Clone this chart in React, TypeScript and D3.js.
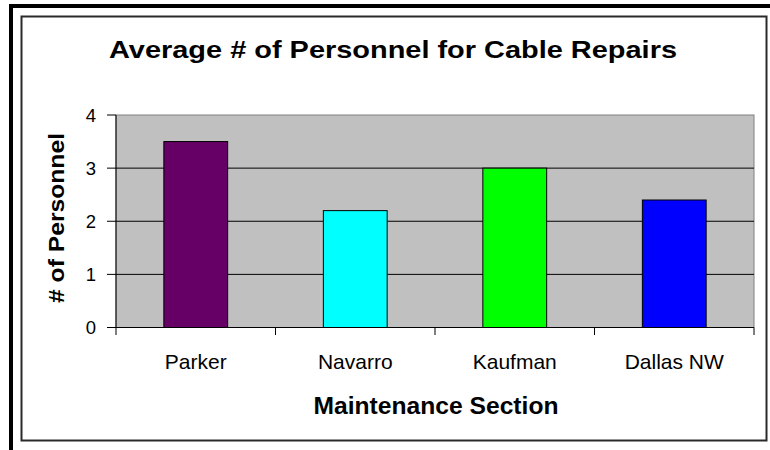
import React from "react";
import * as d3 from "d3";

const categories = ["Parker", "Navarro", "Kaufman", "Dallas NW"];
const values = [3.5, 2.2, 3.0, 2.4];
const barColors = ["#660066", "#00FFFF", "#00FF00", "#0000FF"];
const yTicks = [0, 1, 2, 3, 4];
const title = "Average # of Personnel for Cable Repairs";
const xTitle = "Maintenance Section";
const yTitle = "# of Personnel";

const W = 770;
const H = 450;
const plot = { left: 116, right: 754, top: 115, bottom: 327.5 };
const font = "'Liberation Sans', Arial, Helvetica, sans-serif";

export default function App() {
  const x = d3
    .scaleBand<string>()
    .domain(categories)
    .range([plot.left, plot.right])
    .paddingInner(0.6)
    .paddingOuter(0.3);
  const y = d3.scaleLinear().domain([0, 4]).range([plot.bottom, plot.top]);
  const step = x.step();
  const boundaries = d3.range(categories.length + 1).map((i) => plot.left + i * step);

  return (
    <svg
      width={W}
      height={H}
      style={{ position: "absolute", left: 0, top: 0, background: "#fff" }}
      fontFamily={font}
    >
      <rect x={0} y={0} width={W} height={H} fill="#fff" />
      {/* outer thick frame (clipped) */}
      <rect x={9} y={4} width={W - 9} height={4} fill="#000" />
      <rect x={9} y={4} width={4} height={H - 4} fill="#000" />
      {/* inner chart border */}
      <rect x={21.5} y={16.5} width={745} height={424} fill="none" stroke="#2a2a2a" strokeWidth={2} />

      {/* title */}
      <text
        x={393}
        y={58}
        textAnchor="middle"
        fontSize={24}
        fontWeight="bold"
        textLength={568}
        lengthAdjust="spacingAndGlyphs"
      >
        {title}
      </text>

      {/* plot area */}
      <rect
        x={plot.left}
        y={plot.top}
        width={plot.right - plot.left}
        height={plot.bottom - plot.top}
        fill="#c0c0c0"
        stroke="#808080"
        strokeWidth={1}
      />
      {/* gridlines */}
      {yTicks
        .filter((t) => t > 0 && t < 4)
        .map((t) => (
          <line key={"g" + t} x1={plot.left} x2={plot.right} y1={y(t)} y2={y(t)} stroke="#000" strokeWidth={1} />
        ))}

      {/* bars */}
      {categories.map((c, i) => (
        <rect
          key={c}
          x={x(c)}
          y={y(values[i])}
          width={x.bandwidth()}
          height={plot.bottom - y(values[i])}
          fill={barColors[i]}
          stroke="#000"
          strokeWidth={1}
        />
      ))}

      {/* axes */}
      <line x1={plot.left} x2={plot.left} y1={plot.top} y2={plot.bottom} stroke="#000" strokeWidth={1} />
      <line x1={plot.left - 9} x2={plot.right} y1={plot.bottom} y2={plot.bottom} stroke="#000" strokeWidth={1} />
      {yTicks.map((t) => (
        <g key={"yt" + t}>
          <line x1={plot.left - 9} x2={plot.left} y1={y(t)} y2={y(t)} stroke="#000" strokeWidth={1} />
          <text x={96} y={y(t)} dy="0.36em" textAnchor="end" fontSize={18.5}>
            {t}
          </text>
        </g>
      ))}
      {boundaries.map((bx, i) => (
        <line key={"xt" + i} x1={bx} x2={bx} y1={plot.bottom} y2={plot.bottom + 7.5} stroke="#000" strokeWidth={1} />
      ))}
      {categories.map((c) => (
        <text key={"xl" + c} x={(x(c) as number) + x.bandwidth() / 2} y={369} textAnchor="middle" fontSize={21}>
          {c}
        </text>
      ))}

      {/* axis titles */}
      <text
        x={436}
        y={413.5}
        textAnchor="middle"
        fontSize={24}
        fontWeight="bold"
        textLength={245}
        lengthAdjust="spacingAndGlyphs"
      >
        {xTitle}
      </text>
      <text
        transform="translate(64,218) rotate(-90)"
        textAnchor="middle"
        fontSize={22}
        fontWeight="bold"
        textLength={170}
        lengthAdjust="spacingAndGlyphs"
      >
        {yTitle}
      </text>
    </svg>
  );
}
